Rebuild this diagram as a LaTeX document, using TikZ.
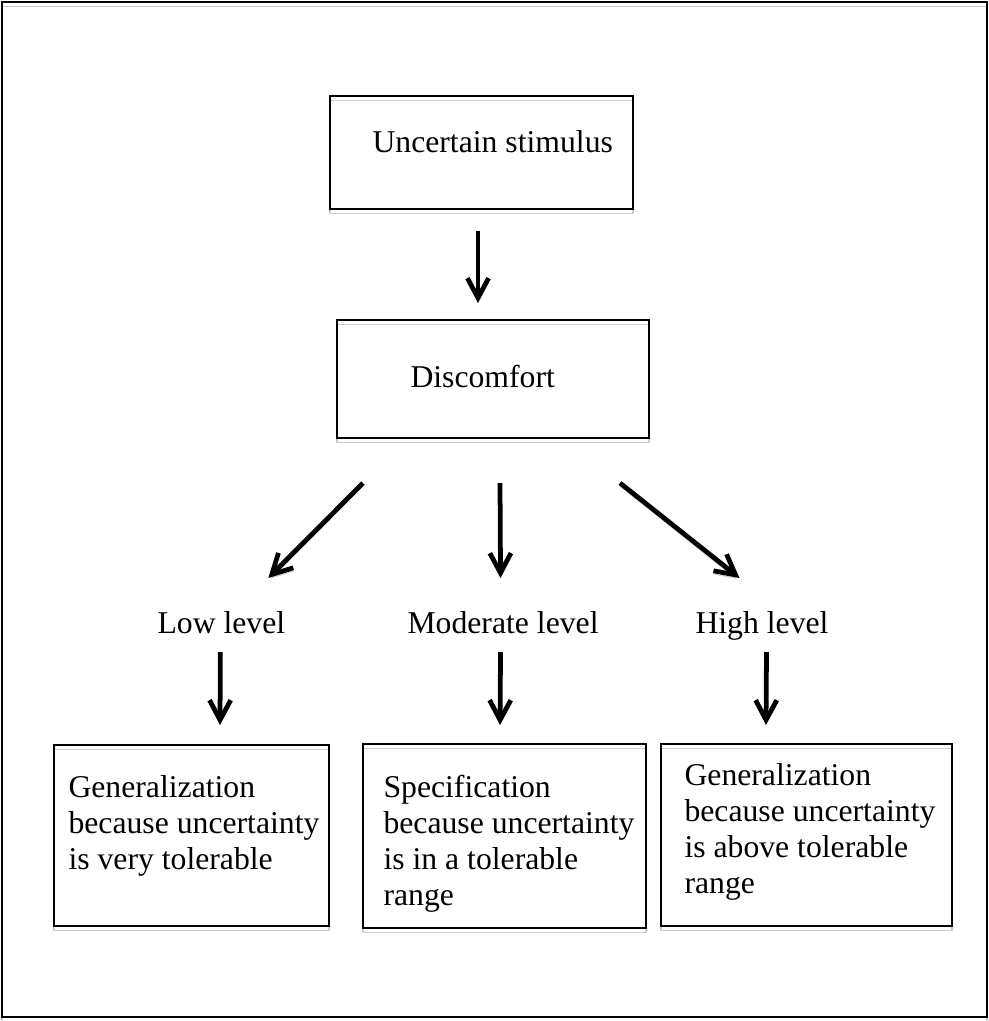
\documentclass[tikz,border=0pt]{standalone}
\usepackage{fontspec}
\setmainfont{Liberation Serif}
\usetikzlibrary{arrows.meta,fit}

\begin{document}
\begin{tikzpicture}[x=0.3785pt,y=-0.3785pt,
font=\fontsize{12}{13.63}\selectfont,
square/.style={
% The shape:
rectangle,
draw=black,
line width=0.75pt,
inner sep=0pt,
outer sep=0pt,
preaction={draw=black!20,transform canvas={yshift=-1.7pt}}
},
words/.style={
inner sep=0pt,
text width=100pt,
align=left,
execute at begin node={\spaceskip=0pt\xspaceskip=0pt}
},
level/.style={
inner sep=0pt
},
arrow/.style={
line width=1.8pt,
-{Straight Barb[length=7.5pt,width=8pt]},
preaction={draw=black!20,transform canvas={yshift=-1.2pt}}
},
frame/.style={
draw=black,
line width=0.8pt,
preaction={draw=black!20,transform canvas={yshift=-1.7pt}}
}
]
\useasboundingbox (0,0) rectangle (989,1021);
\draw[frame] (2,2) rectangle (987,1017);
% Top boxes:
\node (stimulus) [square, fit={(330,96) (633,209)}] {};
\node (stimulustext) [words, anchor=base west] at (372,152) {Uncertain stimulus};
\node (discomfort) [square, fit={(337,320) (649,438)}] {};
\node (discomforttext) [words, anchor=base west] at (410,387) {Discomfort};
% Levels:
\node (low) [level, anchor=base west] at (157,633) {Low level};
\node (moderate) [level, anchor=base west] at (407,633) {Moderate level};
\node (high) [level, anchor=base west] at (695,633) {High level};
% Bottom boxes:
\node (lowbox) [square, fit={(54,745) (329,926)}] {};
\node (lowtext) [words, anchor=base west] at (68,797) {Generalization\\because uncertainty\\is very tolerable};
\node (moderatebox) [square, fit={(363,744) (646,928)}] {};
\node (moderatetext) [words, anchor=base west] at (383,797) {Specification\\because uncertainty\\is in a tolerable\\range};
\node (highbox) [square, fit={(661,744) (952,926)}] {};
\node (hightext) [words, anchor=base west] at (684,785) {Generalization\\because uncertainty\\is above tolerable\\range};
\path ([shift={(-3.5,22)}]stimulus.south) edge[arrow] ([shift={(-15,-17)}]discomfort.north)
([shift={(-130,45)}]discomfort.south) edge[arrow] ([shift={(47,-55)}]low.base)
([shift={(7,45)}]discomfort.south) edge[arrow] ([shift={(-2.5,-55)}]moderate.base)
([shift={(127,45)}]discomfort.south) edge[arrow] ([shift={(-22.5,-55)}]high.base)
([shift={(-1,19)}]low.base) edge[arrow] ([shift={(28.5,-20)}]lowbox.north)
([shift={(-2.5,19)}]moderate.base) edge[arrow] ([shift={(-4.5,-19)}]moderatebox.north)
([shift={(4.5,19)}]high.base) edge[arrow] ([shift={(-40.5,-19)}]highbox.north);
\end{tikzpicture}
\end{document}
